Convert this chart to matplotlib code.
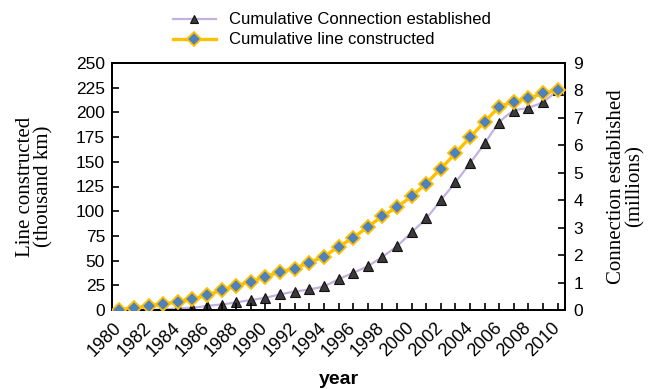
import numpy as np
import matplotlib
matplotlib.use("Agg")
import matplotlib.pyplot as plt
from matplotlib.lines import Line2D
from matplotlib.transforms import ScaledTranslation

years = list(range(1980, 2011))
line_km = [0, 2, 4, 6, 8.4, 10.8, 15, 20, 24.6, 28.7, 33.7, 38.8, 42, 48, 54,
           64, 73, 84, 95, 104, 115, 128, 143, 158.6, 174.8, 190.6, 205.8,
           210.9, 214.3, 219.3, 222.7]
connections = [0, 0, 0, 0.02, 0.06, 0.08, 0.15, 0.2, 0.28, 0.36, 0.45, 0.57,
               0.67, 0.75, 0.87, 1.12, 1.35, 1.6, 1.94, 2.33, 2.83, 3.34, 4.0,
               4.65, 5.35, 6.07, 6.83, 7.25, 7.37, 7.59, 8.0]
left_ticks = list(range(0, 251, 25))
right_ticks = list(range(0, 10))


def smooth_curve(x, y, n=12):
    """Catmull-Rom spline through the points, for a smoothed line."""
    x = np.asarray(x, float)
    y = np.asarray(y, float)
    px = np.concatenate([[2 * x[0] - x[1]], x, [2 * x[-1] - x[-2]]])
    py = np.concatenate([[2 * y[0] - y[1]], y, [2 * y[-1] - y[-2]]])
    xs, ys = [], []
    t = np.linspace(0, 1, n, endpoint=False)
    for i in range(1, len(px) - 2):
        for arr, src in ((xs, px), (ys, py)):
            a0, a1, a2, a3 = src[i - 1], src[i], src[i + 1], src[i + 2]
            arr.extend(0.5 * (2 * a1 + (-a0 + a2) * t
                              + (2 * a0 - 5 * a1 + 4 * a2 - a3) * t ** 2
                              + (-a0 + 3 * a1 - 3 * a2 + a3) * t ** 3))
    xs.append(x[-1])
    ys.append(y[-1])
    return np.array(xs), np.array(ys)


plt.rcParams["font.family"] = ["Liberation Sans", "DejaVu Sans"]

fig = plt.figure(figsize=(6.53, 3.89), dpi=100)
ax = fig.add_axes([112 / 653, 1 - 310 / 389, (565 - 112) / 653, (310 - 63) / 389])
ax2 = ax.twinx()

gold = "#FFC000"
blue = "#4F81BD"
lav = "#C2B2DE"

sx, sy = smooth_curve(years, connections)
ax2.plot(sx, sy, color=lav, lw=1.6, zorder=2)
ax2.plot(years, connections, ls="none", marker="^", ms=6.5,
         mfc="#3A3A3A", mec="#111111", mew=0.8, zorder=3)

ax.plot(years, line_km, color=gold, lw=2.4, marker="D", ms=7.5,
        mfc=blue, mec=gold, mew=1.3, zorder=4)

ax.set_zorder(ax2.get_zorder() + 1)
ax.patch.set_visible(False)

ax.set_xlim(1979.5, 2010.5)
ax.set_ylim(0, 250)
ax2.set_ylim(0, 9)
ax.set_yticks(left_ticks)
ax2.set_yticks(right_ticks)
ax.set_xticks(years)
ax.set_xticklabels([str(y) if y % 2 == 0 else "" for y in years],
                   rotation=45, ha="right", va="center", rotation_mode="anchor")
shift = ScaledTranslation(4 / 100, 0, fig.dpi_scale_trans)
for lab in ax.get_xticklabels():
    lab.set_transform(lab.get_transform() + shift)

for a in (ax, ax2):
    for s in a.spines.values():
        s.set_linewidth(1.4)
        s.set_color("black")
ax.tick_params(axis="both", direction="in", length=5, width=1.2,
               labelsize=12.5, pad=5)
ax.tick_params(axis="x", labelsize=13, pad=11)
ax2.tick_params(axis="y", direction="in", length=5, width=1.2,
                labelsize=12.5, pad=6)

ax.set_ylabel("Line constructed\n(thousand km)", family="Liberation Serif",
              fontsize=15, linespacing=0.95, labelpad=16)
ax2.set_ylabel("Connection established\n(millions)", family="Liberation Serif",
               fontsize=15, linespacing=0.95, labelpad=17)
ax.set_xlabel("year", fontsize=14, fontweight="bold", labelpad=8)

handles = [
    Line2D([], [], color=lav, lw=1.6, marker="^", ms=6, mfc="#3A3A3A",
           mec="#111111", mew=0.8),
    Line2D([], [], color=gold, lw=2.4, marker="D", ms=7, mfc=blue,
           mec=gold, mew=1.3),
]
fig.legend(handles, ["Cumulative Connection established",
                     "Cumulative line constructed"],
           loc="center", bbox_to_anchor=(332 / 653, 1 - 30 / 389),
           frameon=False, fontsize=12, handlelength=2.6, labelspacing=0.3,
           handletextpad=0.8, borderpad=0)

fig.savefig("out.png", dpi=100)
